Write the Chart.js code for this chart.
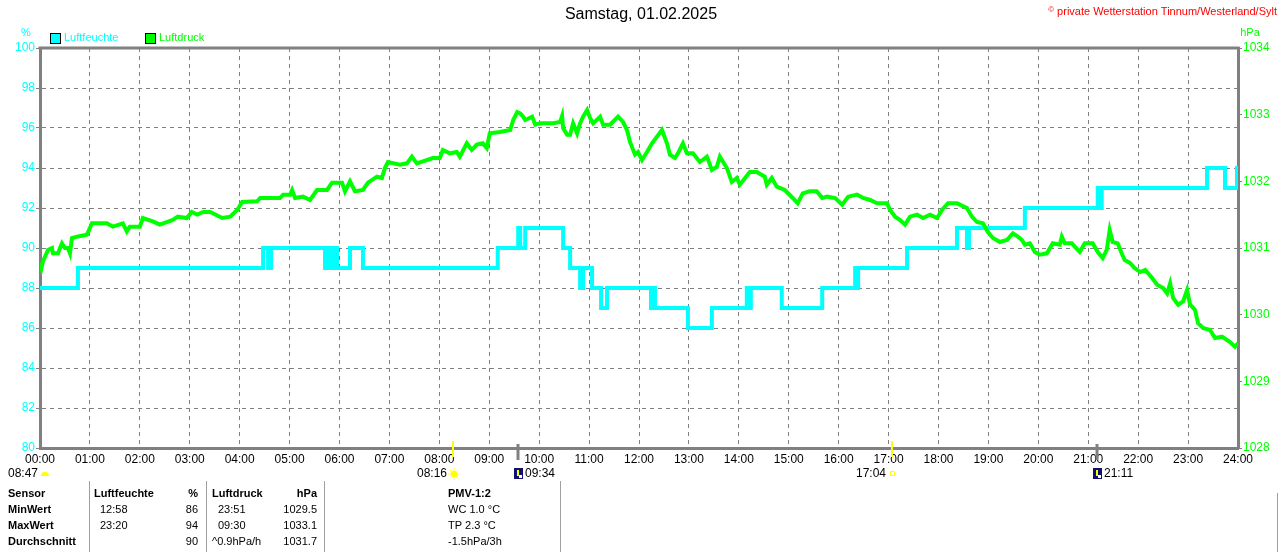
<!DOCTYPE html>
<html>
<head>
<meta charset="utf-8">
<script src="https://cdn.jsdelivr.net/npm/chart.js@4/dist/chart.umd.min.js"></script>
<style>
html,body{margin:0;padding:0;background:#fff;}
#wrap{position:relative;width:1280px;height:552px;}
canvas{display:block;}
</style>
</head>
<body>
<div id="wrap"><canvas id="c" width="1280" height="552"></canvas></div>
<script>
// ---- Data (hours since midnight) ----
const xTickLabels = ["00:00","01:00","02:00","03:00","04:00","05:00","06:00","07:00","08:00","09:00","10:00","11:00","12:00","13:00","14:00","15:00","16:00","17:00","18:00","19:00","20:00","21:00","22:00","23:00","24:00"];
const humTicks = [80,82,84,86,88,90,92,94,96,98,100];
const presTicks = [1028,1029,1030,1031,1032,1033,1034];

// Luftfeuchte (%) step data: value holds from time until next entry
const humTimes = [0,0.76,4.47,4.57,4.63,5.71,5.77,5.83,5.89,5.95,6.21,6.47,9.17,9.58,9.62,9.72,10.48,10.62,10.82,10.88,11.06,11.24,11.36,12.24,12.28,12.32,12.98,13.46,14.16,14.2,14.24,14.86,14.9,15.67,16.33,16.35,16.39,17.37,18.37,18.57,18.61,19.73,21.19,21.23,21.27,21.57,23.38,23.74,23.98,24];
const humValues = [88,89,90,89,90,89,90,89,90,89,90,89,90,91,90,91,90,89,88,89,88,87,88,87,88,87,86,87,88,87,88,87,87,88,89,88,89,90,91,90,91,92,93,92,93,93,94,93,94,94];

// Luftdruck (hPa)
const presTimes = [0.00,0.03,0.06,0.10,0.16,0.24,0.26,0.36,0.44,0.50,0.56,0.60,0.64,0.74,0.94,1.00,1.04,1.34,1.46,1.66,1.74,1.80,2.00,2.06,2.26,2.40,2.66,2.76,2.94,3.04,3.15,3.27,3.41,3.65,3.81,3.95,4.05,4.35,4.41,4.81,4.87,5.01,5.05,5.11,5.27,5.41,5.55,5.75,5.85,6.05,6.11,6.21,6.31,6.47,6.57,6.75,6.85,6.91,6.97,7.21,7.35,7.45,7.55,7.67,7.87,8.01,8.07,8.21,8.35,8.41,8.55,8.65,8.75,8.87,8.95,9.01,9.21,9.42,9.48,9.56,9.62,9.68,9.72,9.86,9.92,10.02,10.28,10.42,10.46,10.48,10.56,10.62,10.68,10.76,10.82,10.88,10.96,11.02,11.08,11.22,11.28,11.42,11.58,11.68,11.76,11.82,11.92,11.98,12.06,12.16,12.26,12.36,12.46,12.56,12.62,12.72,12.78,12.88,12.96,13.08,13.22,13.36,13.46,13.56,13.62,13.76,13.86,13.96,14.02,14.22,14.36,14.52,14.56,14.66,14.76,14.92,15.08,15.18,15.28,15.42,15.56,15.67,15.77,15.93,16.07,16.19,16.37,16.49,16.63,16.77,16.97,17.03,17.13,17.23,17.33,17.43,17.57,17.69,17.83,17.97,18.07,18.19,18.37,18.57,18.67,18.77,18.89,18.99,19.09,19.23,19.37,19.49,19.59,19.67,19.73,19.83,19.93,20.03,20.17,20.29,20.43,20.47,20.53,20.67,20.83,20.93,21.09,21.19,21.29,21.37,21.43,21.49,21.59,21.67,21.73,21.83,21.93,22.04,22.14,22.28,22.38,22.50,22.58,22.64,22.70,22.80,22.90,22.98,23.04,23.14,23.20,23.30,23.44,23.54,23.68,23.84,23.94,24.00];
const presValues = [1030.78,1030.70,1030.80,1030.87,1030.97,1031.00,1030.92,1030.92,1031.07,1031.00,1031.00,1030.92,1031.15,1031.17,1031.20,1031.30,1031.37,1031.37,1031.32,1031.37,1031.25,1031.32,1031.32,1031.45,1031.40,1031.35,1031.42,1031.47,1031.45,1031.54,1031.50,1031.54,1031.54,1031.45,1031.47,1031.57,1031.69,1031.70,1031.75,1031.75,1031.80,1031.80,1031.87,1031.75,1031.77,1031.72,1031.87,1031.87,1031.98,1031.98,1031.85,1032.00,1031.85,1031.87,1031.98,1032.07,1032.05,1032.20,1032.29,1032.25,1032.27,1032.37,1032.27,1032.30,1032.35,1032.35,1032.47,1032.42,1032.44,1032.37,1032.57,1032.47,1032.55,1032.57,1032.50,1032.72,1032.74,1032.77,1032.92,1033.04,1033.02,1032.97,1032.92,1032.97,1032.85,1032.87,1032.87,1032.89,1032.98,1032.80,1032.70,1032.70,1032.87,1032.72,1032.87,1032.97,1033.07,1032.95,1032.87,1032.97,1032.85,1032.85,1032.97,1032.89,1032.77,1032.59,1032.40,1032.44,1032.32,1032.44,1032.57,1032.67,1032.77,1032.57,1032.40,1032.35,1032.42,1032.57,1032.42,1032.42,1032.29,1032.37,1032.17,1032.22,1032.37,1032.20,1031.99,1032.05,1031.95,1032.14,1032.14,1032.07,1031.95,1032.05,1031.92,1031.87,1031.75,1031.67,1031.82,1031.85,1031.85,1031.75,1031.77,1031.75,1031.65,1031.77,1031.80,1031.75,1031.72,1031.67,1031.67,1031.57,1031.47,1031.42,1031.35,1031.47,1031.50,1031.45,1031.50,1031.45,1031.57,1031.67,1031.67,1031.60,1031.47,1031.39,1031.37,1031.24,1031.15,1031.09,1031.12,1031.22,1031.17,1031.12,1031.05,1031.07,1030.94,1030.90,1030.92,1031.07,1031.05,1031.17,1031.07,1031.07,1030.94,1031.07,1031.07,1030.94,1030.85,1030.97,1031.27,1031.09,1031.07,1030.92,1030.82,1030.78,1030.70,1030.64,1030.67,1030.55,1030.45,1030.40,1030.32,1030.47,1030.25,1030.15,1030.20,1030.37,1030.15,1030.07,1029.87,1029.80,1029.77,1029.65,1029.67,1029.59,1029.52,1029.57];

// Sun / moon events
const eventTimes = [8.267, 9.567, 17.067, 21.183];
const eventLabels = ["08:16","09:34","17:04","21:11"];
const eventKinds = ["sunrise","moonrise","sunset","moonset"];

// Table
const tableHeader = ["Sensor","Luftfeuchte","%","Luftdruck","hPa","PMV-1:2"];
const tableRows = [
  ["MinWert","12:58","86","23:51","1029.5","WC 1.0 °C"],
  ["MaxWert","23:20","94","09:30","1033.1","TP 2.3 °C"],
  ["Durchschnitt","","90","^0.9hPa/h","1031.7","-1.5hPa/3h"]
];

const GRAY = '#808080';
const CYAN = '#00ffff';
const GREEN = '#00ff00';
const FONT = '"Liberation Sans", Arial, sans-serif';

const humData = humTimes.map((t,i)=>({x:t,y:humValues[i]}));
const presData = presTimes.map((t,i)=>({x:t,y:presValues[i]}));

const deco = {
  id:'deco',
  afterDraw(chart){
    const ctx = chart.ctx;
    const a = chart.chartArea;
    const xs = chart.scales.x;
    ctx.save();
    // top border
    ctx.strokeStyle = GRAY; ctx.lineWidth = 3;
    ctx.beginPath(); ctx.moveTo(a.left-1.5, a.top); ctx.lineTo(a.right+1.5, a.top); ctx.stroke();

    // title
    ctx.fillStyle = '#000'; ctx.font = '16px '+FONT; ctx.textAlign='center'; ctx.textBaseline='middle';
    ctx.fillText('Samstag, 01.02.2025', 641, 15);
    ctx.fillStyle = '#ff0000'; ctx.font = '11px '+FONT; ctx.textAlign='right';
    ctx.fillText('private Wetterstation Tinnum/Westerland/Sylt', 1277, 12);
    const w = ctx.measureText('private Wetterstation Tinnum/Westerland/Sylt').width;
    ctx.font = '8px '+FONT;
    ctx.fillText('\u00A9', 1277 - w - 3, 10);

    // units
    ctx.font = '11px '+FONT; ctx.textAlign='center';
    ctx.fillStyle = CYAN; ctx.fillText('%', 26, 33);
    ctx.fillStyle = GREEN; ctx.fillText('hPa', 1250, 33);

    // legend
    ctx.lineWidth = 1; ctx.strokeStyle = '#000';
    ctx.fillStyle = CYAN; ctx.fillRect(50.5,33.5,10,10); ctx.strokeRect(50.5,33.5,10,10);
    ctx.fillStyle = GREEN; ctx.fillRect(145.5,33.5,10,10); ctx.strokeRect(145.5,33.5,10,10);
    ctx.textAlign='left'; ctx.font='11px '+FONT;
    ctx.fillStyle = CYAN; ctx.fillText('Luftfeuchte', 64, 38);
    ctx.fillStyle = GREEN; ctx.fillText('Luftdruck', 159, 38);

    // first under-label 08:47
    ctx.fillStyle='#000'; ctx.font='12px '+FONT; ctx.textAlign='left';
    ctx.fillText('08:47', 8, 474);
    ctx.fillStyle='#ffff00';
    ctx.beginPath(); ctx.arc(45, 476, 4, Math.PI, 0); ctx.fill();

    // events
    eventTimes.forEach((t,i)=>{
      const px = Math.round(xs.getPixelForValue(t));
      const kind = eventKinds[i];
      const isSun = kind.startsWith('sun');
      ctx.strokeStyle = isSun ? '#ffff00' : GRAY;
      ctx.lineWidth = isSun ? 2 : 3;
      ctx.beginPath(); ctx.moveTo(px, isSun?441:444); ctx.lineTo(px, isSun?457:460); ctx.stroke();
      ctx.font='12px '+FONT; ctx.fillStyle='#000';
      if (kind==='sunrise'){
        ctx.textAlign='right'; ctx.fillText(eventLabels[i], px-6, 474);
        ctx.fillStyle='#ffff00'; ctx.beginPath(); ctx.arc(px+1,474,3.5,0,Math.PI*2); ctx.fill();
        ctx.strokeStyle='#ffff00'; ctx.lineWidth=1;
        for(let k=0;k<8;k++){const an=k*Math.PI/4; ctx.beginPath(); ctx.moveTo(px+1+Math.cos(an)*4.5,474+Math.sin(an)*4.5); ctx.lineTo(px+1+Math.cos(an)*6,474+Math.sin(an)*6); ctx.stroke();}
      } else if (kind==='sunset'){
        ctx.textAlign='right'; ctx.fillText(eventLabels[i], px-6, 474);
        ctx.strokeStyle='#ffff00'; ctx.lineWidth=1; ctx.strokeRect(px-1.5,471.5,4,4);
      } else {
        ctx.fillStyle='#101070'; ctx.fillRect(px-4,468,9,11);
        ctx.fillStyle='#ffff00'; ctx.fillRect(px-1,470,2,6);
        ctx.fillStyle='#ffffff'; ctx.fillRect(px+1,475,3,3);
        ctx.fillStyle='#000'; ctx.textAlign='left'; ctx.fillText(eventLabels[i], px+7, 474);
      }
    });

    // table lines
    ctx.strokeStyle='#a0a0a0'; ctx.lineWidth=1;
    [89,206,324,560].forEach(x=>{ctx.beginPath(); ctx.moveTo(x+0.5,481); ctx.lineTo(x+0.5,552); ctx.stroke();});
    ctx.beginPath(); ctx.moveTo(1277.5,493); ctx.lineTo(1277.5,552); ctx.stroke();

    // table text
    const rowY = [494,510,526,542];
    ctx.fillStyle='#000';
    const bold = 'bold 11px '+FONT, norm='11px '+FONT;
    ctx.font=bold;
    ctx.textAlign='left'; ctx.fillText(tableHeader[0],8,rowY[0]);
    ctx.fillText(tableHeader[1],94,rowY[0]);
    ctx.textAlign='right'; ctx.fillText(tableHeader[2],198,rowY[0]);
    ctx.textAlign='left'; ctx.fillText(tableHeader[3],212,rowY[0]);
    ctx.textAlign='right'; ctx.fillText(tableHeader[4],317,rowY[0]);
    ctx.textAlign='left'; ctx.fillText(tableHeader[5],448,rowY[0]);
    tableRows.forEach((r,i)=>{
      const y=rowY[i+1];
      ctx.font=bold; ctx.textAlign='left'; ctx.fillText(r[0],8,y);
      ctx.font=norm;
      ctx.fillText(r[1],100,y);
      ctx.textAlign='right'; ctx.fillText(r[2],198,y);
      ctx.textAlign='left'; ctx.fillText(r[3], r[3].startsWith('^')?212:218, y);
      ctx.textAlign='right'; ctx.fillText(r[4],317,y);
      ctx.textAlign='left'; ctx.fillText(r[5],448,y);
    });
    ctx.restore();
  }
};

new Chart(document.getElementById('c'), {
  type:'line',
  data:{datasets:[
    {label:'Luftdruck', data:presData, yAxisID:'y2', borderColor:GREEN, backgroundColor:GREEN, borderWidth:4, pointRadius:0, tension:0, order:0},
    {label:'Luftfeuchte', data:humData, yAxisID:'y', borderColor:CYAN, backgroundColor:CYAN, borderWidth:4, pointRadius:0, stepped:'before', order:1}
  ]},
  options:{
    responsive:false, animation:false, devicePixelRatio:1,
    layout:{padding:{top:48,left:0,right:0,bottom:0}},
    plugins:{legend:{display:false}, title:{display:false}, tooltip:{enabled:false}},
    scales:{
      x:{type:'linear', min:0, max:24,
        afterFit(s){s.height=104;},
        afterBuildTicks(s){s.ticks = xTickLabels.map((_,i)=>({value:i}));},
        ticks:{color:'#000', font:{family:FONT,size:12}, padding:4, maxRotation:0, autoSkip:false,
          callback:(v)=>xTickLabels[v]},
        grid:{color:GRAY, lineWidth:1, drawTicks:false},
        border:{display:true, color:GRAY, width:3, dash:[4,4]}
      },
      y:{type:'linear', position:'left', min:80, max:100,
        afterFit(s){s.width=40;},
        afterBuildTicks(s){s.ticks = humTicks.map(v=>({value:v}));},
        ticks:{color:CYAN, font:{family:FONT,size:12}, padding:1, callback:(v)=>String(v)},
        grid:{color:GRAY, lineWidth:1, drawTicks:true, tickLength:4, tickBorderDash:[], tickColor:GRAY},
        border:{display:true, color:GRAY, width:3, dash:[4,4]}
      },
      y2:{type:'linear', position:'right', min:1028, max:1034,
        afterFit(s){s.width=42;},
        afterBuildTicks(s){s.ticks = presTicks.map(v=>({value:v}));},
        ticks:{color:GREEN, font:{family:FONT,size:12}, padding:1, callback:(v)=>String(v)},
        grid:{drawOnChartArea:false, drawTicks:true, tickLength:4, color:GRAY},
        border:{display:true, color:GRAY, width:3}
      }
    }
  },
  plugins:[deco]
});
</script>
</body>
</html>
